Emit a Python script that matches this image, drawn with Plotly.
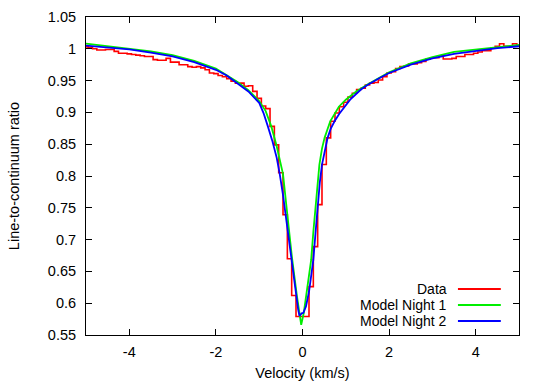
import plotly.graph_objects as go

# ---- Data (step histogram, bin centres every 0.1 km/s) ----
vel_data = [round(-5.0 + 0.1 * i, 2) for i in range(101)]
ratio_data = [
    1.003, 1.002, 1.000, 0.998, 0.998, 0.999, 0.999, 0.996, 0.993, 0.993,   # -5.0 .. -4.1
    0.992, 0.991, 0.990, 0.989, 0.988, 0.988, 0.983, 0.982, 0.982, 0.985,   # -4.0 .. -3.1
    0.979, 0.979, 0.975, 0.975, 0.972, 0.971, 0.972, 0.970, 0.967, 0.962,   # -3.0 .. -2.1
    0.961, 0.958, 0.956, 0.953, 0.949, 0.946, 0.946, 0.941, 0.942, 0.933,   # -2.0 .. -1.1
    0.922, 0.910, 0.906, 0.878, 0.849, 0.805, 0.739, 0.670, 0.612, 0.579,   # -1.0 .. -0.1
    0.579,                                                                  #  0.0
    0.579, 0.626, 0.689, 0.755, 0.818, 0.860, 0.886, 0.899, 0.909, 0.916,   #  0.1 .. 1.0
    0.924, 0.930, 0.936, 0.938, 0.943, 0.946, 0.947, 0.951, 0.956, 0.962,   #  1.1 .. 2.0
    0.964, 0.969, 0.972, 0.973, 0.976, 0.976, 0.978, 0.980, 0.984, 0.986,   #  2.1 .. 3.0
    0.986, 0.989, 0.984, 0.984, 0.985, 0.988, 0.988, 0.991, 0.991, 0.993,   #  3.1 .. 4.0
    0.995, 0.997, 0.997, 1.001, 1.004, 1.008, 1.004, 1.004, 1.008, 1.005,   #  4.1 .. 5.0
]

# ---- Model Night 1 (green) ----
vel_m1 = [-5.0, -4.5, -4.0, -3.5, -3.0, -2.5, -2.0, -1.5, -1.25, -1.0, -0.85,
          -0.72, -0.6, -0.5, -0.45, -0.35, -0.24, -0.13, -0.08, -0.03, 0.03,
          0.1, 0.15, 0.2, 0.25, 0.3, 0.35, 0.39, 0.45, 0.51, 0.64, 0.84, 1.0,
          1.24, 1.5, 2.0, 2.5, 3.0, 3.5, 4.0, 4.5, 5.0]
ratio_m1 = [1.008, 1.004, 1.000, 0.996, 0.990, 0.981, 0.969, 0.948, 0.935, 0.918, 0.902,
            0.878, 0.848, 0.818, 0.803, 0.739, 0.670, 0.612, 0.585, 0.566, 0.585,
            0.618, 0.640, 0.668, 0.712, 0.755, 0.790, 0.818, 0.843, 0.860, 0.886, 0.909, 0.920,
            0.933, 0.944, 0.963, 0.977, 0.987, 0.995, 0.999, 1.003, 1.006]

# ---- Model Night 2 (blue) ----
vel_m2 = [-5.0, -4.5, -4.0, -3.5, -3.0, -2.5, -2.0, -1.75, -1.5, -1.25, -1.0, -0.9,
          -0.8, -0.7, -0.6, -0.53, -0.45, -0.39, -0.32, -0.26, -0.2, -0.15, -0.1,
          -0.07, -0.02, 0.02, 0.08, 0.15, 0.2, 0.25, 0.3, 0.35, 0.4, 0.45, 0.5,
          0.58, 0.65, 0.74, 0.85, 0.97, 1.1, 1.35, 1.5, 1.75, 2.0, 2.5, 3.0, 3.5,
          4.0, 4.5, 5.0]
ratio_m2 = [1.005, 1.002, 0.999, 0.994, 0.988, 0.979, 0.967, 0.958, 0.946, 0.933, 0.915, 0.899,
            0.878, 0.856, 0.830, 0.805, 0.770, 0.739, 0.703, 0.670, 0.640, 0.612, 0.590,
            0.580, 0.584, 0.585, 0.595, 0.618, 0.640, 0.668, 0.710, 0.755, 0.790, 0.818, 0.836,
            0.860, 0.874, 0.886, 0.898, 0.909, 0.920, 0.936, 0.943, 0.953, 0.962, 0.975, 0.985, 0.992,
            0.997, 1.001, 1.004]

x_tick_vals = [-4, -2, 0, 2, 4]
x_tick_text = ["-4", "-2", "0", "2", "4"]
y_tick_vals = [0.55, 0.6, 0.65, 0.7, 0.75, 0.8, 0.85, 0.9, 0.95, 1.0, 1.05]
y_tick_text = ["0.55", "0.6", "0.65", "0.7", "0.75", "0.8", "0.85", "0.9", "0.95", "1", "1.05"]

series_names = ["Data", "Model Night 1", "Model Night 2"]
series_colors = ["#ff0000", "#00ee00", "#0000ff"]

FONT = "Liberation Sans, Arial, sans-serif"

fig = go.Figure()
fig.add_trace(go.Scatter(x=vel_data, y=ratio_data, mode="lines", line_shape="hvh",
                         line=dict(color=series_colors[0], width=1.6), name=series_names[0]))
fig.add_trace(go.Scatter(x=vel_m1, y=ratio_m1, mode="lines",
                         line=dict(color=series_colors[1], width=1.8), name=series_names[1]))
fig.add_trace(go.Scatter(x=vel_m2, y=ratio_m2, mode="lines",
                         line=dict(color=series_colors[2], width=1.8), name=series_names[2]))

axis_common = dict(showline=True, linecolor="black", linewidth=1, mirror="ticks",
                   ticks="inside", ticklen=6, tickwidth=1, tickcolor="black",
                   showgrid=False, zeroline=False, automargin=False,
                   tickfont=dict(family=FONT, size=14.5, color="black"))

fig.update_xaxes(range=[-5, 5], tickvals=x_tick_vals, ticktext=x_tick_text,
                 ticklabelstandoff=4,
                 title=dict(text="Velocity (km/s)", font=dict(family=FONT, size=14.5, color="black"),
                            standoff=9),
                 **axis_common)
fig.update_yaxes(range=[0.55, 1.05], tickvals=y_tick_vals, ticktext=y_tick_text,
                 ticklabelstandoff=6,
                 title=dict(text="Line-to-continuum ratio", font=dict(family=FONT, size=14.5, color="black"),
                            standoff=24),
                 **axis_common)

# manual legend (text right-aligned, sample line to its right)
legend_rows_y = [0.1447, 0.0943, 0.0440]
for name, color, yy in zip(series_names, series_colors, legend_rows_y):
    fig.add_annotation(x=0.836, y=yy, xref="paper", yref="paper", text=name, showarrow=False,
                       xanchor="right", yanchor="middle", borderpad=0,
                       font=dict(family=FONT, size=14, color="black"))
    fig.add_shape(type="line", xref="paper", yref="paper", x0=0.859, x1=0.958, y0=yy, y1=yy,
                  line=dict(color=color, width=2))

fig.update_layout(width=545, height=381, showlegend=False,
                  margin=dict(l=86, r=26, t=17, b=46),
                  paper_bgcolor="white", plot_bgcolor="white",
                  font=dict(family=FONT, size=14.5, color="black"))

fig.write_html("out.html",
               config={"displayModeBar": False, "staticPlot": True},
               post_script="document.body.style.margin='0';document.body.style.overflow='hidden';")
